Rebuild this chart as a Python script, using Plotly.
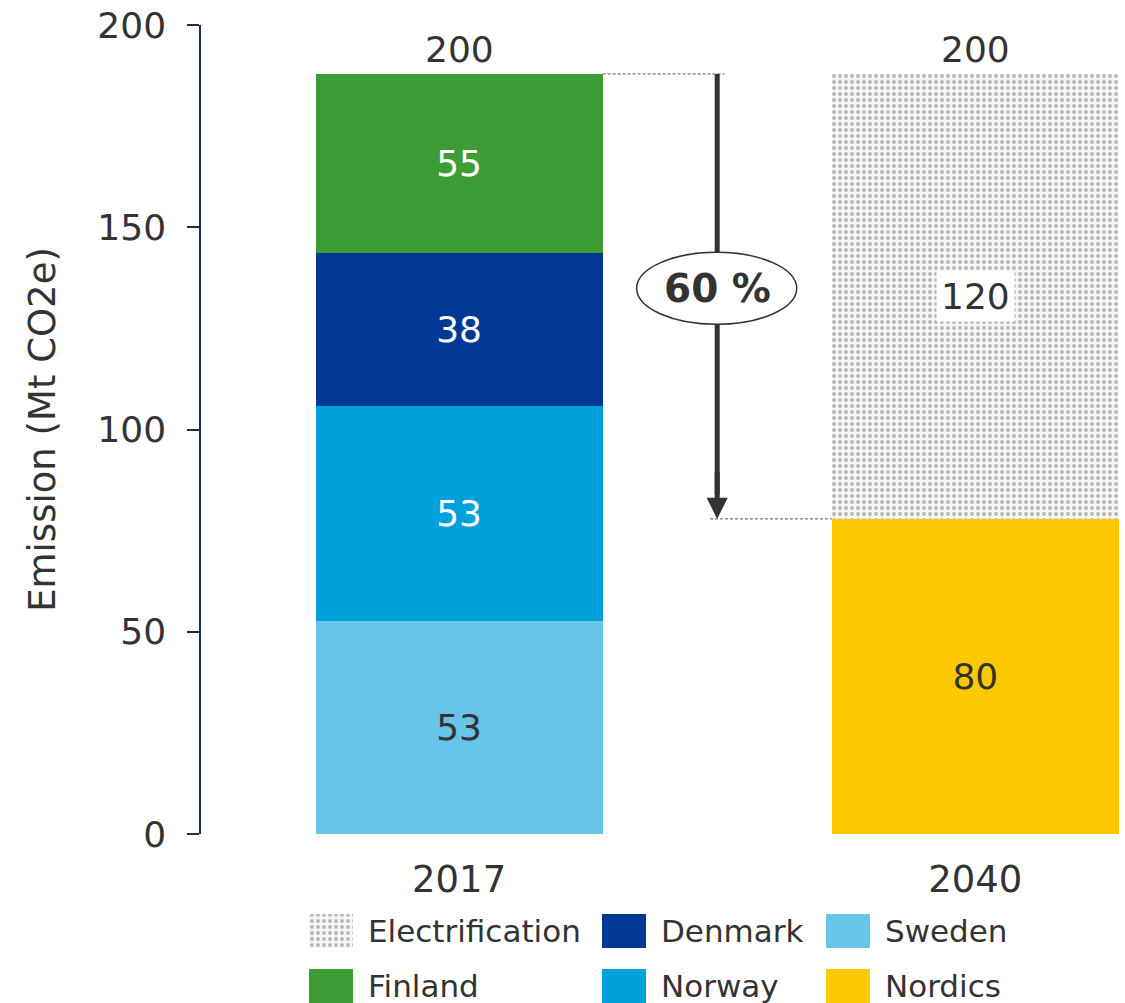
import plotly.graph_objects as go

# ---- data ----
years = ["2017", "2040"]
country_names = ["Sweden", "Norway", "Denmark", "Finland"]
country_values = [52.7, 53.1, 37.8, 44.3]          # bar heights as drawn
country_labels = ["53", "53", "38", "55"]          # printed labels
country_colors = ["#68C4E9", "#00A0DA", "#003893", "#3E9C35"]
country_text_colors = ["#333333", "#ffffff", "#ffffff", "#ffffff"]

nordics_value = 77.9
nordics_label = "80"
electrification_value = 110.0
electrification_label = "120"
total_labels = ["200", "200"]
reduction_label = "60 %"

legend_names = ["Electrification", "Denmark", "Sweden", "Finland", "Norway", "Nordics"]

FONT = "DejaVu Sans"
TXT = "#333333"
AXC = "#1f2a55"
BAR_W = 0.556
elec_pattern = dict(shape=".", fgcolor="#7a7a7a", bgcolor="#f5f5f5", size=6, solidity=0.33)

fig = go.Figure()

for name, val, lab, col, tc in zip(country_names, country_values, country_labels,
                                   country_colors, country_text_colors):
    fig.add_trace(go.Bar(x=[years[0]], y=[val], name=name, marker_color=col,
                         marker_line_width=0, width=BAR_W, text=[lab],
                         textposition="inside", insidetextanchor="middle", textangle=0,
                         insidetextfont=dict(family=FONT, size=36, color=tc),
                         showlegend=False, hoverinfo="skip"))

fig.add_trace(go.Bar(x=[years[1]], y=[nordics_value], name="Nordics", marker_color="#FCC900",
                     marker_line_width=0, width=BAR_W, text=[nordics_label],
                     textposition="inside", insidetextanchor="middle", textangle=0,
                     insidetextfont=dict(family=FONT, size=36, color=TXT),
                     showlegend=False, hoverinfo="skip"))
fig.add_trace(go.Bar(x=[years[1]], y=[electrification_value], name="Electrification",
                     marker=dict(color="#f5f5f5", pattern=elec_pattern, line_width=0),
                     width=BAR_W, showlegend=False, hoverinfo="skip"))

total_2017 = sum(country_values)
total_2040 = nordics_value + electrification_value
i2017, i2040 = 0, 1   # category index positions

# electrification label with white box
fig.add_annotation(x=i2040, y=nordics_value + electrification_value / 2, xref="x", yref="y",
                   text=electrification_label, showarrow=False, bgcolor="white",
                   font=dict(family=FONT, size=36, color=TXT), borderpad=4)

# totals
for xi, tot, lab in zip([i2017, i2040], [total_2017, total_2040], total_labels):
    fig.add_annotation(x=xi, y=tot, xref="x", yref="y", text=lab, showarrow=False,
                       yanchor="bottom", yshift=2, font=dict(family=FONT, size=36, color=TXT))

# dashed connector lines
fig.add_shape(type="line", xref="x", yref="y", x0=BAR_W / 2, x1=0.514, y0=total_2017, y1=total_2017,
              line=dict(color="#555555", width=1, dash="3px,2px"))
fig.add_shape(type="line", xref="x", yref="y", x0=0.486, x1=1 - BAR_W / 2, y0=nordics_value, y1=nordics_value,
              line=dict(color="#555555", width=1, dash="3px,2px"))

# arrow shaft (shape, so the ellipse can cover it)
fig.add_shape(type="line", xref="x", yref="y", x0=0.5, x1=0.5, y0=total_2017, y1=nordics_value + 6,
              line=dict(color="#333333", width=5))
# ellipse with reduction label
mid = (total_2017 + nordics_value) / 2 + 2
fig.add_shape(type="circle", xref="x", yref="y", x0=0.344, x1=0.654, y0=mid - 8.9, y1=mid + 8.9,
              fillcolor="white", line=dict(color="#333333", width=1.5))
fig.add_annotation(x=0.5, y=mid, xref="x", yref="y", text="<b>" + reduction_label + "</b>",
                   showarrow=False, font=dict(family=FONT, size=39, color=TXT))
# arrow head
fig.add_annotation(x=0.5, y=nordics_value, ax=0.5, ay=nordics_value + 12, xref="x", yref="y",
                   axref="x", ayref="y", text="", showarrow=True, arrowhead=2,
                   arrowsize=0.85, arrowwidth=5, arrowcolor="#333333")

# ---- custom legend (pixel-like coords on a hidden axis pair) ----
leg_col_x = [309, 602, 826]
leg_row_y = [72, 17]          # measured up from bottom edge
sw_w, sw_h = 44, 34
legend_colors = [None, "#003893", "#68C4E9", "#3E9C35", "#00A0DA", "#FCC900"]
for i, (nm, col) in enumerate(zip(legend_names, legend_colors)):
    cx = leg_col_x[i % 3]
    cy = leg_row_y[i // 3]
    if col is None:
        fig.add_trace(go.Bar(x=[cx + sw_w / 2], y=[sw_h], base=[cy - sw_h / 2], width=sw_w,
                             marker=dict(color="#f5f5f5", pattern=elec_pattern, line_width=0),
                             xaxis="x2", yaxis="y2", showlegend=False, hoverinfo="skip"))
    else:
        fig.add_shape(type="rect", xref="x2", yref="y2", x0=cx, x1=cx + sw_w,
                      y0=cy - sw_h / 2, y1=cy + sw_h / 2, fillcolor=col, line_width=0)
    fig.add_annotation(x=cx + sw_w + 13, y=cy, xref="x2", yref="y2", text=nm, showarrow=False,
                       xanchor="left", yanchor="middle", font=dict(family=FONT, size=31, color=TXT))

fig.update_layout(
    width=1125, height=1003, barmode="stack",
    margin=dict(l=201, r=0, t=25, b=0, autoexpand=False),
    paper_bgcolor="white", plot_bgcolor="white",
    font=dict(family=FONT, size=35, color=TXT),
    showlegend=False,
    xaxis=dict(type="category", range=[-0.5, 1.29], showline=False, ticks="",
               showgrid=False, zeroline=False, tickfont=dict(size=37, color=TXT),
               ticklabelstandoff=20, anchor="y", automargin=False),
    yaxis=dict(domain=[169 / 978, 1], range=[0, 200], tickvals=[0, 50, 100, 150, 200],
               showline=True, linecolor=AXC, linewidth=1.5, ticks="outside", ticklen=12,
               tickcolor=AXC, tickwidth=1.5, showgrid=False, zeroline=False,
               tickfont=dict(size=36, color=TXT), ticklabelstandoff=14, automargin=False,
               title=dict(text="Emission (Mt CO2e)", font=dict(size=37, color=TXT), standoff=30)),
    xaxis2=dict(domain=[0, 1], range=[201, 1125], visible=False, anchor="y2", automargin=False),
    yaxis2=dict(domain=[0, 169 / 978], range=[0, 169], visible=False, anchor="x2", automargin=False),
)

fig.write_html("out.html", config={"displayModeBar": False},
               post_script="document.body.style.margin='0';document.body.style.padding='0';")
